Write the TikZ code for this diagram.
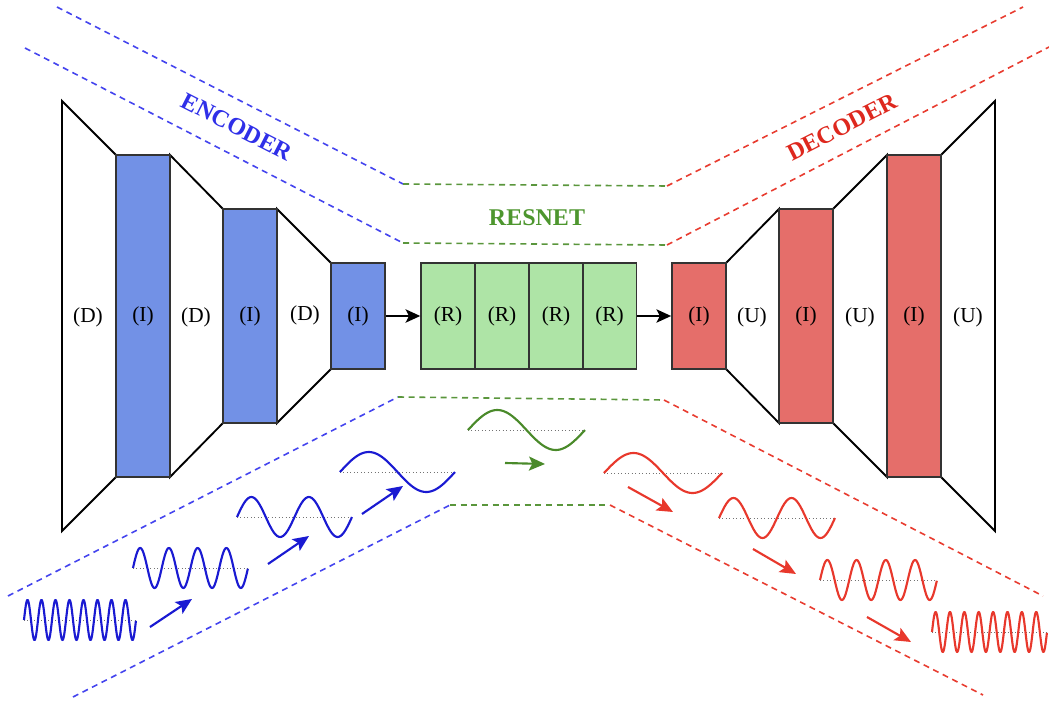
\documentclass[tikz,border=0pt]{standalone}
\usepackage{fontspec}
\setmainfont{Liberation Serif}
\usetikzlibrary{arrows.meta}
\definecolor{encfill}{RGB}{114,145,230}
\definecolor{decfill}{RGB}{229,110,106}
\definecolor{resfill}{RGB}{174,228,166}
\definecolor{encdash}{RGB}{68,68,238}
\definecolor{decdash}{RGB}{232,60,48}
\definecolor{resdash}{RGB}{90,150,60}
\definecolor{enctext}{RGB}{47,47,232}
\definecolor{dectext}{RGB}{222,40,30}
\definecolor{restext}{RGB}{77,150,46}
\definecolor{wblue}{RGB}{26,26,210}
\definecolor{wred}{RGB}{232,56,44}
\definecolor{wgreen}{RGB}{74,138,42}
\newcommand\wv[6]{%
  \draw[baseln] (#1,#3) -- (#2,#3);
  \draw[#5, line width=1.6pt, line join=round] plot[domain=0:1, samples=#6, smooth] ({#1+\x*(#2-#1)}, {#3-20*sin(360*#4*\x)});
}
\begin{document}
\begin{tikzpicture}[x=0.75pt, y=-0.75pt,
  lbl/.style={font=\fontsize{16}{19}\selectfont, inner sep=0pt},
  trap/.style={draw=black, line width=1.4pt, fill=white, line join=miter},
  blk/.style={draw=black!80, line width=1.3pt, minimum width=40.5pt, inner sep=0pt, font=\fontsize{16}{19}\selectfont},
  encblk/.style={blk, fill=encfill},
  decblk/.style={blk, fill=decfill},
  resblk/.style={blk, fill=resfill, minimum width=40.3pt, minimum height=79.5pt},
  dsh/.style={line width=1.2pt, dash pattern=on 4.5pt off 3.5pt},
  title/.style={font=\fontsize{18}{21}\selectfont\bfseries, inner sep=0pt},
  baseln/.style={draw=black!55, line width=0.6pt, dotted},
  warr/.style={line width=1.6pt, -{Stealth[length=12pt, width=10.5pt, inset=2.5pt]}},
  barr/.style={line width=1.3pt, -{Stealth[length=11pt, width=10pt, inset=2.5pt]}}
]
\useasboundingbox (0,0) rectangle (1049,702);

% dashed guide lines
\draw[dsh, encdash] (57,7) -- (403,184);
\draw[dsh, resdash] (403,184) -- (667,186);
\draw[dsh, decdash] (667,186) -- (1023,7);
\draw[dsh, encdash] (25,48) -- (403,243);
\draw[dsh, resdash] (403,243) -- (667,245);
\draw[dsh, decdash] (667,245) -- (1049,47);
\draw[dsh, encdash] (8,596) -- (398,397);
\draw[dsh, resdash] (398,397) -- (664,400);
\draw[dsh, decdash] (664,400) -- (1043,596);
\draw[dsh, encdash] (73,697) -- (450,505);
\draw[dsh, resdash] (450,505) -- (610,505);
\draw[dsh, decdash] (610,505) -- (983,695);

% titles
\node[title, enctext, rotate=-27] (enc) at (237,127) {ENCODER};
\node[title, restext] (res) at (537,218) {RESNET};
\node[title, dectext, rotate=27] (dec) at (842,127) {DECODER};

% encoder trapezoids
\draw[trap] (62,101) -- (116,155) -- (116,477) -- (62,531) -- cycle;
\draw[trap] (170,155) -- (223,209) -- (223,423) -- (170,477) -- cycle;
\draw[trap] (277,209) -- (331,263) -- (331,369) -- (277,423) -- cycle;
\node[lbl] (d1) at (88,317) {(D)};
\node[lbl] (d2) at (196,317) {(D)};
\node[lbl] (d3) at (305,315) {(D)};
\node[encblk, minimum height=241.5pt] (ei1) at (143,316) {(I)};
\node[encblk, minimum height=160.5pt] (ei2) at (250,316) {(I)};
\node[encblk, minimum height=79.5pt] (ei3) at (358,316) {(I)};

% resnet
\node[resblk] (r1) at (448,316) {(R)};
\node[resblk] (r2) at (502,316) {(R)};
\node[resblk] (r3) at (556,316) {(R)};
\node[resblk] (r4) at (609.5,316) {(R)};

% decoder trapezoids
\draw[trap] (726,263) -- (779,209) -- (779,423) -- (726,369) -- cycle;
\draw[trap] (833,209) -- (887,155) -- (887,477) -- (833,423) -- cycle;
\draw[trap] (941,155) -- (995,101) -- (995,531) -- (941,477) -- cycle;
\node[lbl] (u1) at (752,317) {(U)};
\node[lbl] (u2) at (860,317) {(U)};
\node[lbl] (u3) at (968,317) {(U)};
\node[decblk, minimum height=79.5pt] (di1) at (699,316) {(I)};
\node[decblk, minimum height=160.5pt] (di2) at (806,316) {(I)};
\node[decblk, minimum height=241.5pt] (di3) at (914,316) {(I)};

% main arrows
\draw[barr] (ei3.east) -- (r1.west);
\draw[barr] (r4.east) -- (di1.west);

% waves
\wv{24}{136}{620}{8}{wblue}{321}
\wv{133}{248}{568}{4}{wblue}{161}
\wv{237}{352}{517}{2}{wblue}{81}
\wv{340}{455}{472}{1}{wblue}{61}
\wv{468}{585}{430}{1}{wgreen}{61}
\wv{604}{722}{473}{1}{wred}{61}
\wv{719}{835}{518}{2}{wred}{81}
\wv{820}{937}{580}{4}{wred}{161}
\wv{932}{1047}{632}{8}{wred}{321}

% wave arrows
\coordinate (ba1s) at (150,627); \coordinate (ba1e) at (192,599);
\coordinate (ba2s) at (268,564); \coordinate (ba2e) at (309,536);
\coordinate (ba3s) at (362,514); \coordinate (ba3e) at (403,486);
\coordinate (ga1s) at (505,463); \coordinate (ga1e) at (545,464);
\coordinate (ra1s) at (628,487); \coordinate (ra1e) at (673,512);
\coordinate (ra2s) at (753,549); \coordinate (ra2e) at (796,574);
\coordinate (ra3s) at (867,617); \coordinate (ra3e) at (911,642);
\draw[warr, wblue] (ba1s) -- (ba1e);
\draw[warr, wblue] (ba2s) -- (ba2e);
\draw[warr, wblue] (ba3s) -- (ba3e);
\draw[warr, wgreen] (ga1s) -- (ga1e);
\draw[warr, wred] (ra1s) -- (ra1e);
\draw[warr, wred] (ra2s) -- (ra2e);
\draw[warr, wred] (ra3s) -- (ra3e);
\end{tikzpicture}
\end{document}
